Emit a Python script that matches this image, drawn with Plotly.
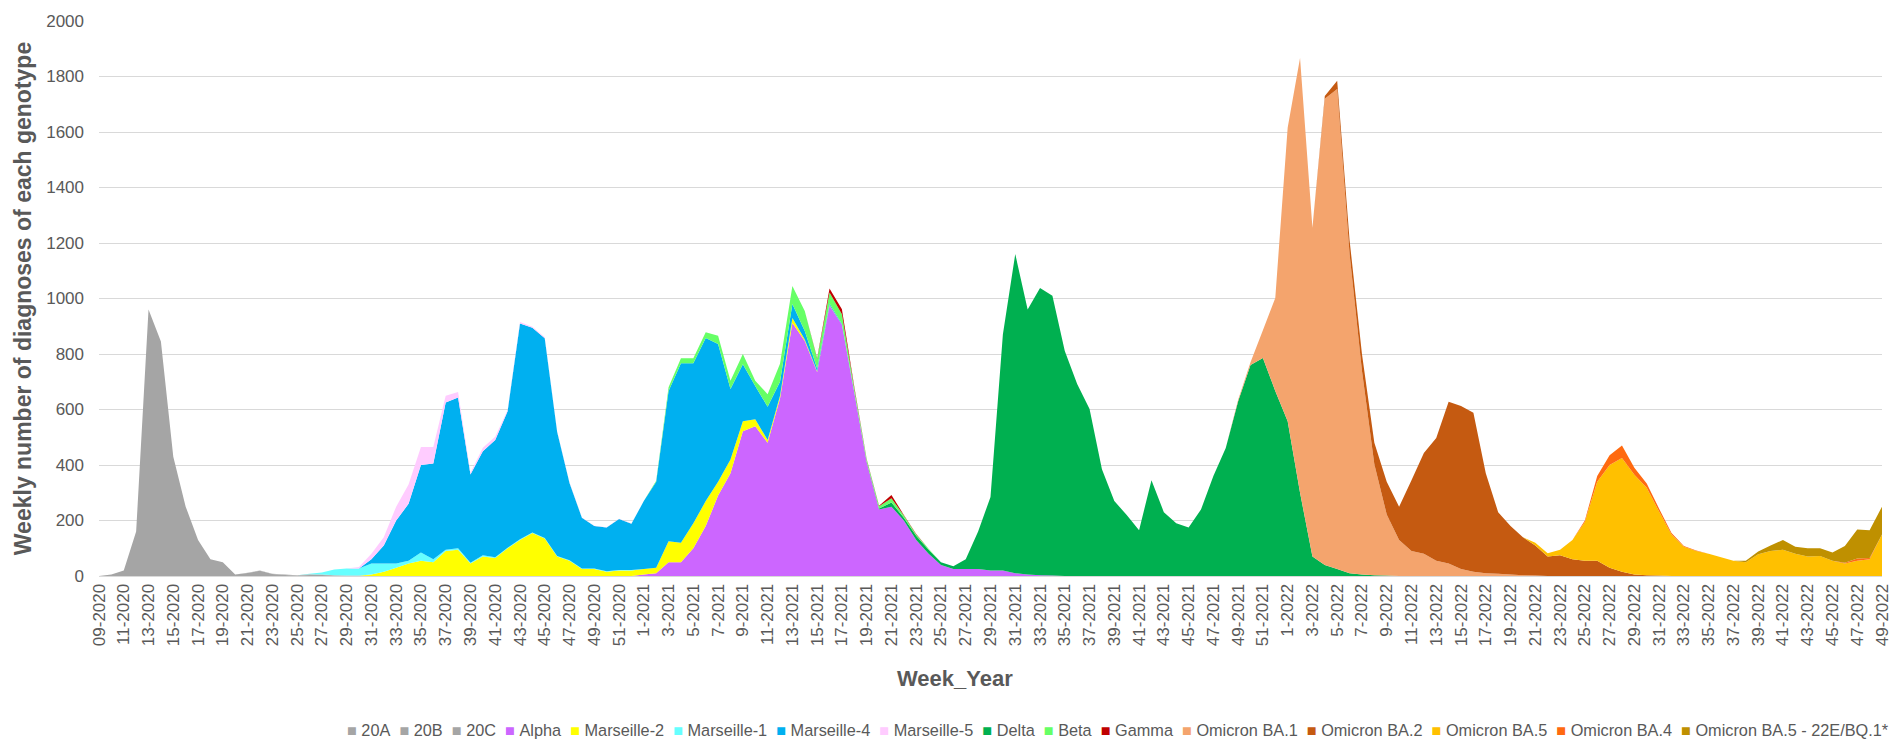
import plotly.graph_objects as go

N_WEEKS = 145


def pad(start, vals):
    # put the weekly counts of one genotype at their place in the 145 weeks
    return [0] * start + vals + [0] * (N_WEEKS - start - len(vals))


weeks = (["09-2020"] + [f"{w}-2020" for w in range(10, 53)]
         + [f"{w}-2021" for w in range(1, 53)]
         + [f"{w}-2022" for w in range(1, 50)])

# weekly diagnoses per genotype
g20A = pad(0, [0, 5, 20, 160, 960, 845, 430, 250, 130, 60, 50, 5, 11, 19, 7, 4, 2, 4, 4, 2, 1, 1])
g20B = pad(11, [0, 1, 1, 1, 1, 1, 1])
g20C = pad(17, [1, 1, 1, 1, 1])
alpha = pad(44, [5, 10, 50, 50, 100, 180, 290, 370, 522, 540, 480, 640, 912, 847, 735, 975,
                 905, 660, 410, 240, 250, 200, 130, 80, 40, 25, 25, 25, 20, 20, 10, 5, 3, 2])
marseille2 = pad(22, [5, 15, 30, 45, 55, 50, 90, 95, 45, 70, 65, 100, 130, 155, 135, 70, 55,
                      25, 25, 15, 20, 20, 20, 20, 75, 70, 90, 90, 50, 50, 36, 25, 10, 10, 18,
                      5, 3, 2])
marseille1 = pad(17, [2, 8, 20, 25, 25, 40, 30, 15, 10, 30, 10, 5, 5, 3, 5, 3, 2, 2, 2, 2, 2,
                      2, 2, 2, 2, 2, 2])
marseille4 = pad(22, [15, 65, 155, 205, 315, 345, 530, 543, 318, 375, 422, 492, 778, 738, 720,
                      448, 278, 183, 153, 158, 183, 166, 245, 310, 542, 647, 577, 588, 496,
                      254, 205, 120, 120, 50, 50, 31, 10, 5, 3, 2])
marseille5 = pad(21, [5, 20, 30, 50, 70, 65, 60, 25, 20, 6, 12, 12, 4, 5, 3, 3, 2, 2, 1, 1, 1,
                      1, 1])
delta = pad(62, [2, 3, 15, 10, 15, 15, 10, 10, 35, 135, 265, 850, 1150, 955, 1035, 1008, 811,
                 692, 602, 385, 270, 220, 165, 345, 230, 190, 175, 240, 360, 461, 630, 760,
                 786, 667, 558, 300, 70, 40, 25, 10, 5, 3, 2])
beta = pad(45, [3, 13, 18, 18, 20, 30, 30, 37, 19, 45, 65, 65, 72, 35, 40, 35, 15, 8, 8, 15, 8,
                5, 3])
gamma = pad(58, [3, 14, 18, 5, 2, 2, 12, 2, 1])
ba1 = pad(92, [5, 10, 100, 335, 1057, 1567, 1185, 1680, 1730, 1150, 735, 400, 220, 130, 90, 80,
               55, 45, 25, 15, 10, 8, 5, 3, 2])
ba2 = pad(99, [10, 30, 50, 60, 77, 118, 120, 255, 363, 442, 583, 588, 573, 360, 222, 175, 137,
               108, 70, 75, 60, 55, 55, 30, 15, 5, 3, 2])
ba5 = pad(116, [10, 12, 20, 70, 140, 285, 370, 410, 360, 315, 230, 150, 105, 90, 80, 68, 55, 50,
                78, 90, 95, 80, 70, 72, 55, 45, 55, 60, 150])
ba4 = pad(120, [5, 20, 35, 45, 25, 15, 10, 5, 3, 2, 0, 0, 0, 0, 0, 0, 0, 0, 0, 0, 0, 3, 8, 5, 0])
bq1 = pad(133, [5, 10, 20, 35, 25, 30, 28, 30, 60, 105, 100, 100])

series = [
    ("20A", g20A, "#A5A5A5"),
    ("20B", g20B, "#A5A5A5"),
    ("20C", g20C, "#A5A5A5"),
    ("Alpha", alpha, "#CC66FF"),
    ("Marseille-2", marseille2, "#FFFF00"),
    ("Marseille-1", marseille1, "#66FFFF"),
    ("Marseille-4", marseille4, "#00B0F0"),
    ("Marseille-5", marseille5, "#FFCCFF"),
    ("Delta", delta, "#00B050"),
    ("Beta", beta, "#66FF66"),
    ("Gamma", gamma, "#C00000"),
    ("Omicron BA.1", ba1, "#F4A46D"),
    ("Omicron BA.2", ba2, "#C55A11"),
    ("Omicron BA.5", ba5, "#FFC000"),
    ("Omicron BA.4", ba4, "#FF6A10"),
    ("Omicron BA.5 - 22E/BQ.1*", bq1, "#BF9000"),
]

FONT = "Liberation Sans, Arial, sans-serif"
GREY = "#595959"

fig = go.Figure()
for name, vals, color in series:
    fig.add_trace(go.Scatter(
        x=weeks, y=vals, name=name, stackgroup="one", mode="none",
        fillcolor=color, line=dict(width=0),
    ))

# Excel-like legend: small coloured squares followed by the names
legend_text = "\u00a0\u00a0".join(
    f"<span style='color:{c}'>■</span>\u00a0{n}" for n, _, c in series
)
fig.add_annotation(
    text=legend_text, xref="paper", yref="paper", x=1.005, y=-0.277,
    xanchor="right", yanchor="middle", showarrow=False,
    font=dict(family=FONT, size=16.3, color=GREY),
)
# x axis title, placed like the original (slightly left of the plot centre)
fig.add_annotation(
    text="<b>Week_Year</b>", xref="paper", yref="paper", x=0.48, y=-0.184,
    xanchor="center", yanchor="middle", showarrow=False,
    font=dict(family=FONT, size=22, color=GREY),
)

fig.update_layout(
    width=1902, height=739,
    margin=dict(l=91, r=28, t=13, b=171),
    paper_bgcolor="white", plot_bgcolor="white",
    showlegend=False,
    font=dict(family=FONT, color=GREY),
    xaxis=dict(
        type="category", range=[0, N_WEEKS - 1], automargin=False,
        tickvals=weeks[::2], ticktext=weeks[::2], tickangle=-90,
        tickfont=dict(size=17, color=GREY),
        showgrid=False, showline=True, linecolor="#D9D9D9", ticks="",
    ),
    yaxis=dict(
        range=[0, 2000], dtick=200, tickfont=dict(size=17, color=GREY), automargin=False,
        ticklabelstandoff=14,
        gridcolor="#D9D9D9", gridwidth=1, zeroline=False, ticks="",
        title=dict(text="<b>Weekly number of diagnoses of each genotype</b>",
                   font=dict(size=23, color=GREY), standoff=8),
    ),
)

fig.write_html("out.html")
